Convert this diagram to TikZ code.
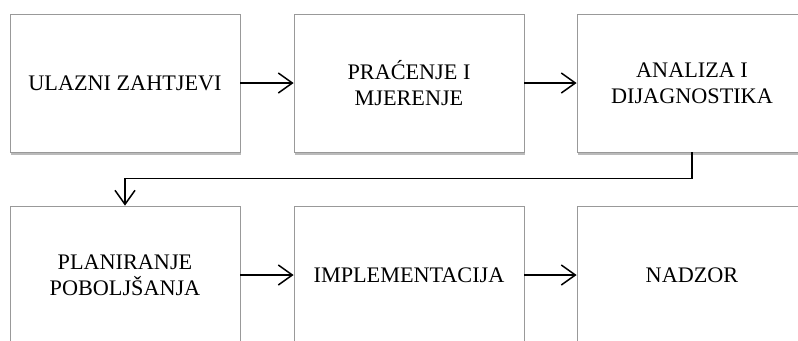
\documentclass[tikz,border=0pt]{standalone}
\usepackage{fontspec}
\setmainfont{Liberation Serif}
\usetikzlibrary{arrows.meta,shadows}

\begin{document}
\begin{tikzpicture}[x=1bp, y=-1bp,
    font=\fontsize{22.3}{26}\selectfont,
    stage/.style={draw=black!40, line width=0.8bp, fill=white, minimum width=230bp, minimum height=138bp,
        align=center, inner sep=0pt,
        drop shadow={shadow xshift=1bp, shadow yshift=-2.5bp, fill=black!45, opacity=0.6}},
    flow/.style={line width=1.5bp, -{Straight Barb[length=14bp, width=20bp, line width=1.5bp]}}]
        \clip (0,0) rectangle (798,340);
        \fill[white] (0,0) rectangle (798,340);

        \node[stage] (ulaz) at (125,83) {ULAZNI ZAHTJEVI};
        \node[stage] (pracenje) at (409,83) {PRAĆENJE I\\MJERENJE};
        \node[stage] (analiza) at (692,83) {ANALIZA I\\DIJAGNOSTIKA};

        \node[stage] (planiranje) at (125,275) {PLANIRANJE\\POBOLJŠANJA};
        \node[stage] (impl) at (409,275) {IMPLEMENTACIJA};
        \node[stage] (nadzor) at (692,275) {NADZOR};

        \draw[flow] (ulaz) -- (pracenje);
        \draw[flow] (pracenje) -- (analiza);
        \draw[flow] (analiza.south) -- ++(0,26) -| (planiranje.north);
        \draw[flow] (planiranje) -- (impl);
        \draw[flow] (impl) -- (nadzor);
    \end{tikzpicture}
\end{document}
